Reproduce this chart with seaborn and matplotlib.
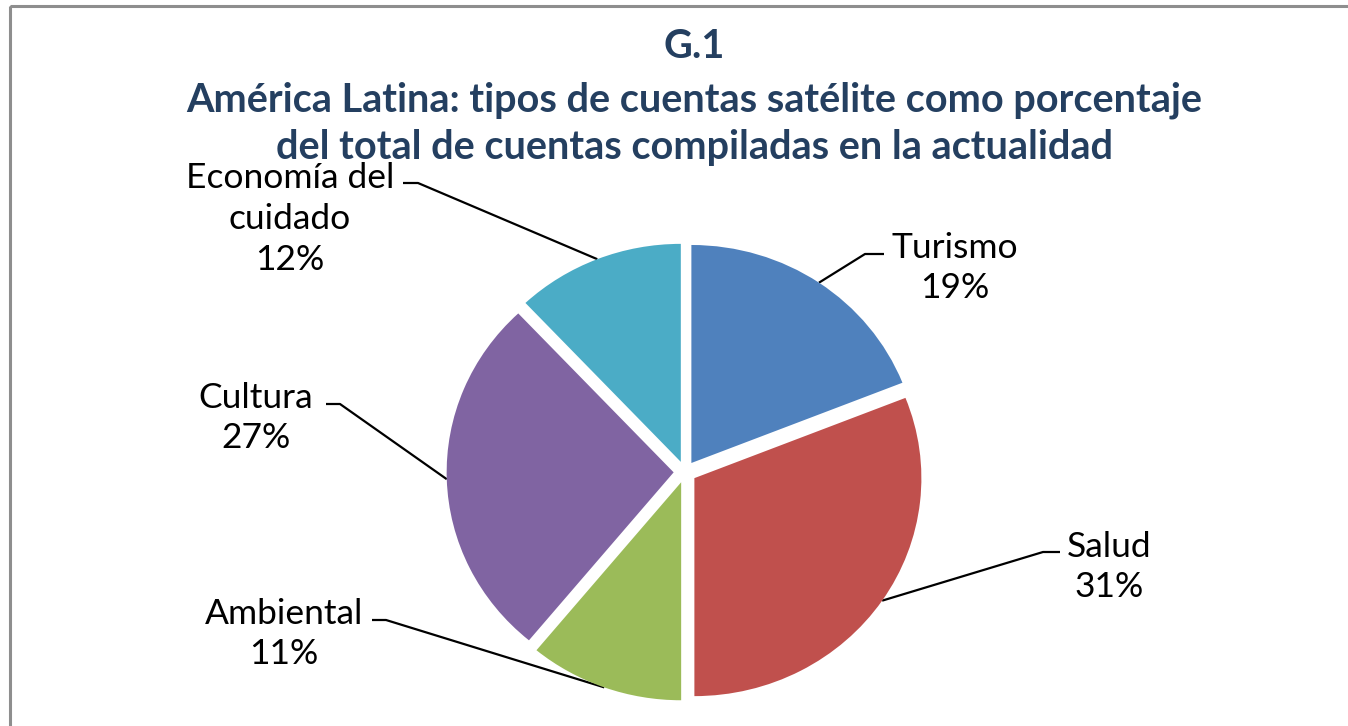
import numpy as np
import matplotlib.pyplot as plt
import seaborn as sns
from matplotlib.patches import Rectangle

sns.set_style("white")
plt.rcParams["font.family"] = ["Lato", "DejaVu Sans"]

# data
categories = ["Turismo", "Salud", "Ambiental", "Cultura", "Economía del\ncuidado"]
shares = [19, 31, 11, 27, 12]
palette = sns.color_palette(["#4F81BD", "#C0504D", "#9BBB59", "#8064A2", "#4BACC6"])

title_lines = ["G.1",
               "América Latina: tipos de cuentas satélite como porcentaje",
               "del total de cuentas compiladas en la actualidad"]

# layout (image pixels): label centre, elbow of leader, end of horizontal stub
label_pos = [(955, 268), (1109, 567), (284, 634), (256, 418), (290, 219)]
elbows = [(865, 254), (1043, 552), (386, 620), (340, 404), (418, 183)]
stubs = [884, 1060, 372, 326, 403]

W, H = 1348, 726
fig = plt.figure(figsize=(W / 100, H / 100), dpi=100)
bg = fig.add_axes([0, 0, 1, 1])
bg.set_xlim(0, W)
bg.set_ylim(H, 0)
bg.axis("off")
bg.add_patch(Rectangle((10, 6), W + 20, H + 20, fill=False, ec="#8E8E8E", lw=2.2))

# pie axes, slightly wider than tall like the original
cx, cy, sx, sy, lim = 685, 472, 227, 218, 1.15
pax = fig.add_axes([(cx - lim * sx) / W, (H - cy - lim * sy) / H,
                    2 * lim * sx / W, 2 * lim * sy / H])
explode = 0.05
wedges, _ = pax.pie(shares, colors=palette, startangle=90, counterclock=False,
                    explode=[explode] * len(shares), wedgeprops=dict(linewidth=0))
pax.set_xlim(-lim, lim)
pax.set_ylim(-lim, lim)
pax.set_aspect("auto")
pax.axis("off")

for w, cat, val, (tx, ty), (ex, ey), sxp in zip(wedges, categories, shares,
                                                label_pos, elbows, stubs):
    th = np.deg2rad((w.theta1 + w.theta2) / 2)
    r = 1 + explode
    disp = pax.transData.transform((r * np.cos(th), r * np.sin(th)))
    ax_, ay_ = bg.transData.inverted().transform(disp)
    bg.plot([ax_, ex, sxp], [ay_, ey, ey], color="black", lw=1.6,
            solid_capstyle="butt")
    bg.text(tx, ty, f"{cat}\n{val}%", ha="center", va="center",
            fontsize=25.5, linespacing=1.33, color="black")

title_y = [47, 100, 148]
for line, y in zip(title_lines, title_y):
    bg.text(694, y, line, ha="center", va="center", fontsize=28.5,
            fontweight="bold", color="#243F60")

fig.savefig("out.png", dpi=100)
